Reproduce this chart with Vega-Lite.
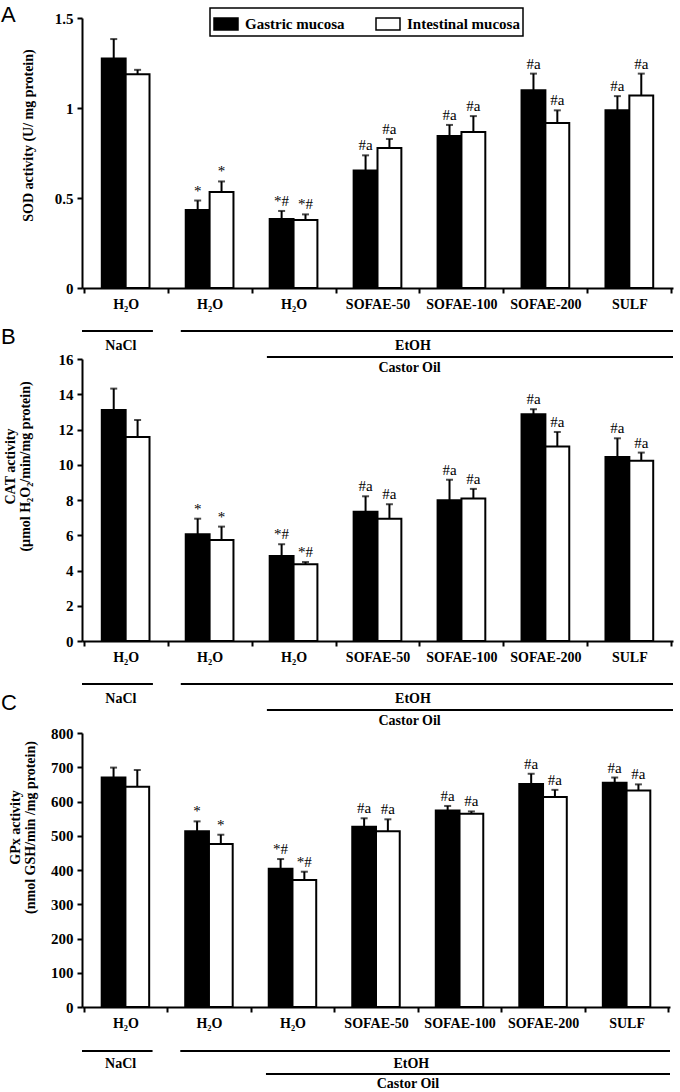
{
  "$schema": "https://vega.github.io/schema/vega-lite/v6.json",
  "background": "white",
  "padding": {"left": 1, "top": 4, "right": 4, "bottom": 0},
  "bounds": "flush",
  "spacing": 0,
  "config": {
    "view": {"stroke": null},
    "font": "Liberation Serif",
    "axis": {
      "domainColor": "black", "domainWidth": 2, "tickColor": "black", "tickWidth": 2, "tickSize": 5,
      "labelColor": "black", "labelFont": "Liberation Serif", "labelFontWeight": "bold", "labelFontSize": 15,
      "titleColor": "black", "titleFont": "Liberation Serif", "titleFontWeight": "bold", "titleFontSize": 14,
      "titleLineHeight": 15, "grid": false, "labelOverlap": false, "labelFlush": false
    },
    "axisX": {"labelFontSize": 14, "labelAngle": 0, "tickBand": "extent", "labelPadding": 4},
    "axisY": {"labelPadding": 4}
  },
  "resolve": {
    "scale": {"x": "independent", "y": "independent", "fill": "independent", "xOffset": "independent"},
    "legend": {"fill": "independent"}
  },
  "datasets": {
    "sod": [
      {"group": "H₂O (NaCl)", "tissue": "Gastric mucosa", "value": 1.275, "upper": 1.383, "sig": ""},
      {"group": "H₂O (NaCl)", "tissue": "Intestinal mucosa", "value": 1.188, "upper": 1.212, "sig": ""},
      {"group": "H₂O (EtOH)", "tissue": "Gastric mucosa", "value": 0.434, "upper": 0.486, "sig": "*"},
      {"group": "H₂O (EtOH)", "tissue": "Intestinal mucosa", "value": 0.534, "upper": 0.592, "sig": "*"},
      {"group": "H₂O (Castor Oil)", "tissue": "Gastric mucosa", "value": 0.383, "upper": 0.428, "sig": "*#"},
      {"group": "H₂O (Castor Oil)", "tissue": "Intestinal mucosa", "value": 0.378, "upper": 0.409, "sig": "*#"},
      {"group": "SOFAE-50", "tissue": "Gastric mucosa", "value": 0.653, "upper": 0.737, "sig": "#a"},
      {"group": "SOFAE-50", "tissue": "Intestinal mucosa", "value": 0.778, "upper": 0.828, "sig": "#a"},
      {"group": "SOFAE-100", "tissue": "Gastric mucosa", "value": 0.845, "upper": 0.906, "sig": "#a"},
      {"group": "SOFAE-100", "tissue": "Intestinal mucosa", "value": 0.867, "upper": 0.955, "sig": "#a"},
      {"group": "SOFAE-200", "tissue": "Gastric mucosa", "value": 1.098, "upper": 1.191, "sig": "#a"},
      {"group": "SOFAE-200", "tissue": "Intestinal mucosa", "value": 0.917, "upper": 0.987, "sig": "#a"},
      {"group": "SULF", "tissue": "Gastric mucosa", "value": 0.987, "upper": 1.066, "sig": "#a"},
      {"group": "SULF", "tissue": "Intestinal mucosa", "value": 1.070, "upper": 1.191, "sig": "#a"}
    ],
    "cat": [
      {"group": "H₂O (NaCl)", "tissue": "Gastric mucosa", "value": 13.11, "upper": 14.32, "sig": ""},
      {"group": "H₂O (NaCl)", "tissue": "Intestinal mucosa", "value": 11.58, "upper": 12.54, "sig": ""},
      {"group": "H₂O (EtOH)", "tissue": "Gastric mucosa", "value": 6.06, "upper": 6.94, "sig": "*"},
      {"group": "H₂O (EtOH)", "tissue": "Intestinal mucosa", "value": 5.73, "upper": 6.49, "sig": "*"},
      {"group": "H₂O (Castor Oil)", "tissue": "Gastric mucosa", "value": 4.82, "upper": 5.49, "sig": "*#"},
      {"group": "H₂O (Castor Oil)", "tissue": "Intestinal mucosa", "value": 4.35, "upper": 4.48, "sig": "*#"},
      {"group": "SOFAE-50", "tissue": "Gastric mucosa", "value": 7.34, "upper": 8.21, "sig": "#a"},
      {"group": "SOFAE-50", "tissue": "Intestinal mucosa", "value": 6.94, "upper": 7.76, "sig": "#a"},
      {"group": "SOFAE-100", "tissue": "Gastric mucosa", "value": 7.98, "upper": 9.15, "sig": "#a"},
      {"group": "SOFAE-100", "tissue": "Intestinal mucosa", "value": 8.08, "upper": 8.63, "sig": "#a"},
      {"group": "SOFAE-200", "tissue": "Gastric mucosa", "value": 12.87, "upper": 13.15, "sig": "#a"},
      {"group": "SOFAE-200", "tissue": "Intestinal mucosa", "value": 11.03, "upper": 11.86, "sig": "#a"},
      {"group": "SULF", "tissue": "Gastric mucosa", "value": 10.44, "upper": 11.5, "sig": "#a"},
      {"group": "SULF", "tissue": "Intestinal mucosa", "value": 10.22, "upper": 10.69, "sig": "#a"}
    ],
    "gpx": [
      {"group": "H₂O (NaCl)", "tissue": "Gastric mucosa", "value": 670, "upper": 699, "sig": ""},
      {"group": "H₂O (NaCl)", "tissue": "Intestinal mucosa", "value": 643, "upper": 692, "sig": ""},
      {"group": "H₂O (EtOH)", "tissue": "Gastric mucosa", "value": 513, "upper": 542, "sig": "*"},
      {"group": "H₂O (EtOH)", "tissue": "Intestinal mucosa", "value": 476, "upper": 503, "sig": "*"},
      {"group": "H₂O (Castor Oil)", "tissue": "Gastric mucosa", "value": 404, "upper": 432, "sig": "*#"},
      {"group": "H₂O (Castor Oil)", "tissue": "Intestinal mucosa", "value": 371, "upper": 395, "sig": "*#"},
      {"group": "SOFAE-50", "tissue": "Gastric mucosa", "value": 526, "upper": 551, "sig": "#a"},
      {"group": "SOFAE-50", "tissue": "Intestinal mucosa", "value": 513, "upper": 548, "sig": "#a"},
      {"group": "SOFAE-100", "tissue": "Gastric mucosa", "value": 574, "upper": 587, "sig": "#a"},
      {"group": "SOFAE-100", "tissue": "Intestinal mucosa", "value": 564, "upper": 571, "sig": "#a"},
      {"group": "SOFAE-200", "tissue": "Gastric mucosa", "value": 651, "upper": 681, "sig": "#a"},
      {"group": "SOFAE-200", "tissue": "Intestinal mucosa", "value": 613, "upper": 634, "sig": "#a"},
      {"group": "SULF", "tissue": "Gastric mucosa", "value": 655, "upper": 670, "sig": "#a"},
      {"group": "SULF", "tissue": "Intestinal mucosa", "value": 632, "upper": 650, "sig": "#a"}
    ],
    "ann": [
      {"kind": "line", "label": "NaCl", "start": 0, "end": 0.84, "tier": 1},
      {"kind": "line", "label": "EtOH", "start": 1.17, "end": 7, "tier": 1},
      {"kind": "line", "label": "Castor Oil", "start": 2.19, "end": 7, "tier": 2},
      {"kind": "text", "label": "NaCl", "pos": 0.46, "tier": 1},
      {"kind": "text", "label": "EtOH", "pos": 3.92, "tier": 1},
      {"kind": "text", "label": "Castor Oil", "pos": 3.88, "tier": 2}
    ]
  },
  "vconcat": [
    {
      "width": 591, "height": 270,
      "title": {"text": "A", "anchor": "start", "frame": "group", "dx": -81, "dy": 20, "offset": 0, "font": "Liberation Sans", "fontSize": 22, "fontWeight": "normal", "color": "black"},
      "data": {"name": "sod"},
      "encoding": {
        "x": {"field": "group", "type": "nominal", "sort": null, "title": null, "scale": {"paddingInner": 0, "paddingOuter": 0.02}, "axis": {"labelExpr": "datum.value ? split(datum.value, ' (')[0] : ''"}},
        "xOffset": {"field": "tissue", "type": "nominal", "sort": null, "scale": {"paddingInner": 0, "paddingOuter": 0.759}}
      },
      "layer": [
        {
          "mark": {"type": "bar", "stroke": "black", "strokeWidth": 2},
          "encoding": {
            "y": {"field": "value", "type": "quantitative", "scale": {"domain": [0, 1.5], "nice": false}, "axis": {"title": "SOD  activity (U/ mg protein)", "values": [0, 0.5, 1, 1.5], "format": "~g", "titlePadding": 19, "titleY": 117, "titleFontSize": 14}},
            "fill": {"field": "tissue", "type": "nominal", "sort": null, "scale": {"domain": ["Gastric mucosa", "Intestinal mucosa"], "range": ["black", "white"]},
              "legend": {"orient": "none", "legendX": 128, "legendY": -10, "direction": "horizontal", "title": null, "symbolType": "M-1,-0.5H1V0.5H-1Z", "symbolSize": 576, "symbolStrokeColor": "black", "symbolStrokeWidth": 1.5, "labelFont": "Liberation Serif", "labelFontWeight": "bold", "labelFontSize": 15, "labelColor": "black", "labelOffset": 6, "columnPadding": 28, "strokeColor": "black", "padding": 3,
                "encode": {"legend": {"update": {"strokeWidth": {"value": 1.5}}}}}}
          }
        },
        {
          "mark": {"type": "rule", "strokeWidth": 2, "color": "black"},
          "encoding": {"y": {"field": "value", "type": "quantitative", "axis": {"title": "SOD  activity (U/ mg protein)", "values": [0, 0.5, 1, 1.5], "format": "~g", "titlePadding": 19, "titleY": 117, "titleFontSize": 14}}, "y2": {"field": "upper"}}
        },
        {
          "mark": {"type": "tick", "orient": "horizontal", "size": 7, "thickness": 2, "color": "black"},
          "encoding": {"y": {"field": "upper", "type": "quantitative", "axis": {"title": "SOD  activity (U/ mg protein)", "values": [0, 0.5, 1, 1.5], "format": "~g", "titlePadding": 19, "titleY": 117, "titleFontSize": 14}}}
        },
        {
          "mark": {"type": "text", "baseline": "bottom", "dy": -2, "font": "Liberation Serif", "fontSize": 15, "color": "black"},
          "encoding": {"y": {"field": "upper", "type": "quantitative", "axis": {"title": "SOD  activity (U/ mg protein)", "values": [0, 0.5, 1, 1.5], "format": "~g", "titlePadding": 19, "titleY": 117, "titleFontSize": 14}}, "text": {"field": "sig"}}
        }
      ]
    },
    {
      "width": 591, "height": 71,
      "data": {"name": "ann"},
      "layer": [
        {
          "transform": [{"filter": "datum.kind == 'line'"}],
          "mark": {"type": "rule", "strokeWidth": 2, "color": "black"},
          "encoding": {
            "x": {"field": "start", "type": "quantitative", "scale": {"domain": [0, 7], "nice": false, "zero": false}, "axis": null},
            "x2": {"field": "end"},
            "y": {"field": "tier", "type": "quantitative", "scale": {"domain": [1, 2], "range": [43, 69], "nice": false, "zero": false}, "axis": null}
          }
        },
        {
          "transform": [{"filter": "datum.kind == 'text' && datum.tier == 1"}],
          "mark": {"type": "text", "baseline": "middle", "dy": 15, "font": "Liberation Serif", "fontWeight": "bold", "fontSize": 14, "color": "black"},
          "encoding": {
            "x": {"field": "pos", "type": "quantitative"},
            "y": {"field": "tier", "type": "quantitative"},
            "text": {"field": "label"}
          }
        },
        {
          "transform": [{"filter": "datum.kind == 'text' && datum.tier == 2"}],
          "mark": {"type": "text", "baseline": "middle", "dy": 11, "font": "Liberation Serif", "fontWeight": "bold", "fontSize": 14, "color": "black"},
          "encoding": {
            "x": {"field": "pos", "type": "quantitative"},
            "y": {"field": "tier", "type": "quantitative"},
            "text": {"field": "label"}
          }
        }
      ]
    },
    {
      "width": 591, "height": 282,
      "title": {"text": "B", "anchor": "start", "frame": "group", "dx": -81, "dy": -3, "offset": 0, "font": "Liberation Sans", "fontSize": 22, "fontWeight": "normal", "color": "black"},
      "data": {"name": "cat"},
      "encoding": {
        "x": {"field": "group", "type": "nominal", "sort": null, "title": null, "scale": {"paddingInner": 0, "paddingOuter": 0.02}, "axis": {"labelExpr": "datum.value ? split(datum.value, ' (')[0] : ''"}},
        "xOffset": {"field": "tissue", "type": "nominal", "sort": null, "scale": {"paddingInner": 0, "paddingOuter": 0.759}}
      },
      "layer": [
        {
          "mark": {"type": "bar", "stroke": "black", "strokeWidth": 2},
          "encoding": {
            "y": {"field": "value", "type": "quantitative", "scale": {"domain": [0, 16], "nice": false}, "axis": {"title": ["CAT activity", "(µmol H₂O₂/min/mg protein)"], "values": [0, 2, 4, 6, 8, 10, 12, 14, 16], "titlePadding": 26, "titleY": 107, "titleFontSize": 14}},
            "fill": {"field": "tissue", "type": "nominal", "sort": null, "scale": {"domain": ["Gastric mucosa", "Intestinal mucosa"], "range": ["black", "white"]}, "legend": null}
          }
        },
        {
          "mark": {"type": "rule", "strokeWidth": 2, "color": "black"},
          "encoding": {"y": {"field": "value", "type": "quantitative", "axis": {"title": ["CAT activity", "(µmol H₂O₂/min/mg protein)"], "values": [0, 2, 4, 6, 8, 10, 12, 14, 16], "titlePadding": 26, "titleY": 107, "titleFontSize": 14}}, "y2": {"field": "upper"}}
        },
        {
          "mark": {"type": "tick", "orient": "horizontal", "size": 7, "thickness": 2, "color": "black"},
          "encoding": {"y": {"field": "upper", "type": "quantitative", "axis": {"title": ["CAT activity", "(µmol H₂O₂/min/mg protein)"], "values": [0, 2, 4, 6, 8, 10, 12, 14, 16], "titlePadding": 26, "titleY": 107, "titleFontSize": 14}}}
        },
        {
          "mark": {"type": "text", "baseline": "bottom", "dy": -2, "font": "Liberation Serif", "fontSize": 15, "color": "black"},
          "encoding": {"y": {"field": "upper", "type": "quantitative", "axis": {"title": ["CAT activity", "(µmol H₂O₂/min/mg protein)"], "values": [0, 2, 4, 6, 8, 10, 12, 14, 16], "titlePadding": 26, "titleY": 107, "titleFontSize": 14}}, "text": {"field": "sig"}}
        }
      ]
    },
    {
      "width": 591, "height": 92,
      "data": {"name": "ann"},
      "layer": [
        {
          "transform": [{"filter": "datum.kind == 'line'"}],
          "mark": {"type": "rule", "strokeWidth": 2, "color": "black"},
          "encoding": {
            "x": {"field": "start", "type": "quantitative", "scale": {"domain": [0, 7], "nice": false, "zero": false}, "axis": null},
            "x2": {"field": "end"},
            "y": {"field": "tier", "type": "quantitative", "scale": {"domain": [1, 2], "range": [43, 69], "nice": false, "zero": false}, "axis": null}
          }
        },
        {
          "transform": [{"filter": "datum.kind == 'text' && datum.tier == 1"}],
          "mark": {"type": "text", "baseline": "middle", "dy": 15, "font": "Liberation Serif", "fontWeight": "bold", "fontSize": 14, "color": "black"},
          "encoding": {
            "x": {"field": "pos", "type": "quantitative"},
            "y": {"field": "tier", "type": "quantitative"},
            "text": {"field": "label"}
          }
        },
        {
          "transform": [{"filter": "datum.kind == 'text' && datum.tier == 2"}],
          "mark": {"type": "text", "baseline": "middle", "dy": 11, "font": "Liberation Serif", "fontWeight": "bold", "fontSize": 14, "color": "black"},
          "encoding": {
            "x": {"field": "pos", "type": "quantitative"},
            "y": {"field": "tier", "type": "quantitative"},
            "text": {"field": "label"}
          }
        }
      ]
    },
    {
      "width": 588, "height": 274,
      "title": {"text": "C", "anchor": "start", "frame": "group", "dx": -81, "dy": -11, "offset": 0, "font": "Liberation Sans", "fontSize": 22, "fontWeight": "normal", "color": "black"},
      "data": {"name": "gpx"},
      "encoding": {
        "x": {"field": "group", "type": "nominal", "sort": null, "title": null, "scale": {"paddingInner": 0, "paddingOuter": 0.02}, "axis": {"labelExpr": "datum.value ? split(datum.value, ' (')[0] : ''"}},
        "xOffset": {"field": "tissue", "type": "nominal", "sort": null, "scale": {"paddingInner": 0, "paddingOuter": 0.759}}
      },
      "layer": [
        {
          "mark": {"type": "bar", "stroke": "black", "strokeWidth": 2},
          "encoding": {
            "y": {"field": "value", "type": "quantitative", "scale": {"domain": [0, 800], "nice": false}, "axis": {"title": ["GPx activity", "(nmol GSH/min /mg protein)"], "values": [0, 100, 200, 300, 400, 500, 600, 700, 800], "titlePadding": 13, "titleY": 94, "titleFontSize": 14}},
            "fill": {"field": "tissue", "type": "nominal", "sort": null, "scale": {"domain": ["Gastric mucosa", "Intestinal mucosa"], "range": ["black", "white"]}, "legend": null}
          }
        },
        {
          "mark": {"type": "rule", "strokeWidth": 2, "color": "black"},
          "encoding": {"y": {"field": "value", "type": "quantitative", "axis": {"title": ["GPx activity", "(nmol GSH/min /mg protein)"], "values": [0, 100, 200, 300, 400, 500, 600, 700, 800], "titlePadding": 13, "titleY": 94, "titleFontSize": 14}}, "y2": {"field": "upper"}}
        },
        {
          "mark": {"type": "tick", "orient": "horizontal", "size": 7, "thickness": 2, "color": "black"},
          "encoding": {"y": {"field": "upper", "type": "quantitative", "axis": {"title": ["GPx activity", "(nmol GSH/min /mg protein)"], "values": [0, 100, 200, 300, 400, 500, 600, 700, 800], "titlePadding": 13, "titleY": 94, "titleFontSize": 14}}}
        },
        {
          "mark": {"type": "text", "baseline": "bottom", "dy": -2, "font": "Liberation Serif", "fontSize": 15, "color": "black"},
          "encoding": {"y": {"field": "upper", "type": "quantitative", "axis": {"title": ["GPx activity", "(nmol GSH/min /mg protein)"], "values": [0, 100, 200, 300, 400, 500, 600, 700, 800], "titlePadding": 13, "titleY": 94, "titleFontSize": 14}}, "text": {"field": "sig"}}
        }
      ]
    },
    {
      "width": 588, "height": 67,
      "data": {"name": "ann"},
      "layer": [
        {
          "transform": [{"filter": "datum.kind == 'line'"}],
          "mark": {"type": "rule", "strokeWidth": 2, "color": "black"},
          "encoding": {
            "x": {"field": "start", "type": "quantitative", "scale": {"domain": [0, 7], "nice": false, "zero": false}, "axis": null},
            "x2": {"field": "end"},
            "y": {"field": "tier", "type": "quantitative", "scale": {"domain": [1, 2], "range": [44, 67], "nice": false, "zero": false}, "axis": null}
          }
        },
        {
          "transform": [{"filter": "datum.kind == 'text' && datum.tier == 1"}],
          "mark": {"type": "text", "baseline": "middle", "dy": 13, "font": "Liberation Serif", "fontWeight": "bold", "fontSize": 14, "color": "black"},
          "encoding": {
            "x": {"field": "pos", "type": "quantitative"},
            "y": {"field": "tier", "type": "quantitative"},
            "text": {"field": "label"}
          }
        },
        {
          "transform": [{"filter": "datum.kind == 'text' && datum.tier == 2"}],
          "mark": {"type": "text", "baseline": "middle", "dy": 10, "font": "Liberation Serif", "fontWeight": "bold", "fontSize": 14, "color": "black"},
          "encoding": {
            "x": {"field": "pos", "type": "quantitative"},
            "y": {"field": "tier", "type": "quantitative"},
            "text": {"field": "label"}
          }
        }
      ]
    }
  ]
}
